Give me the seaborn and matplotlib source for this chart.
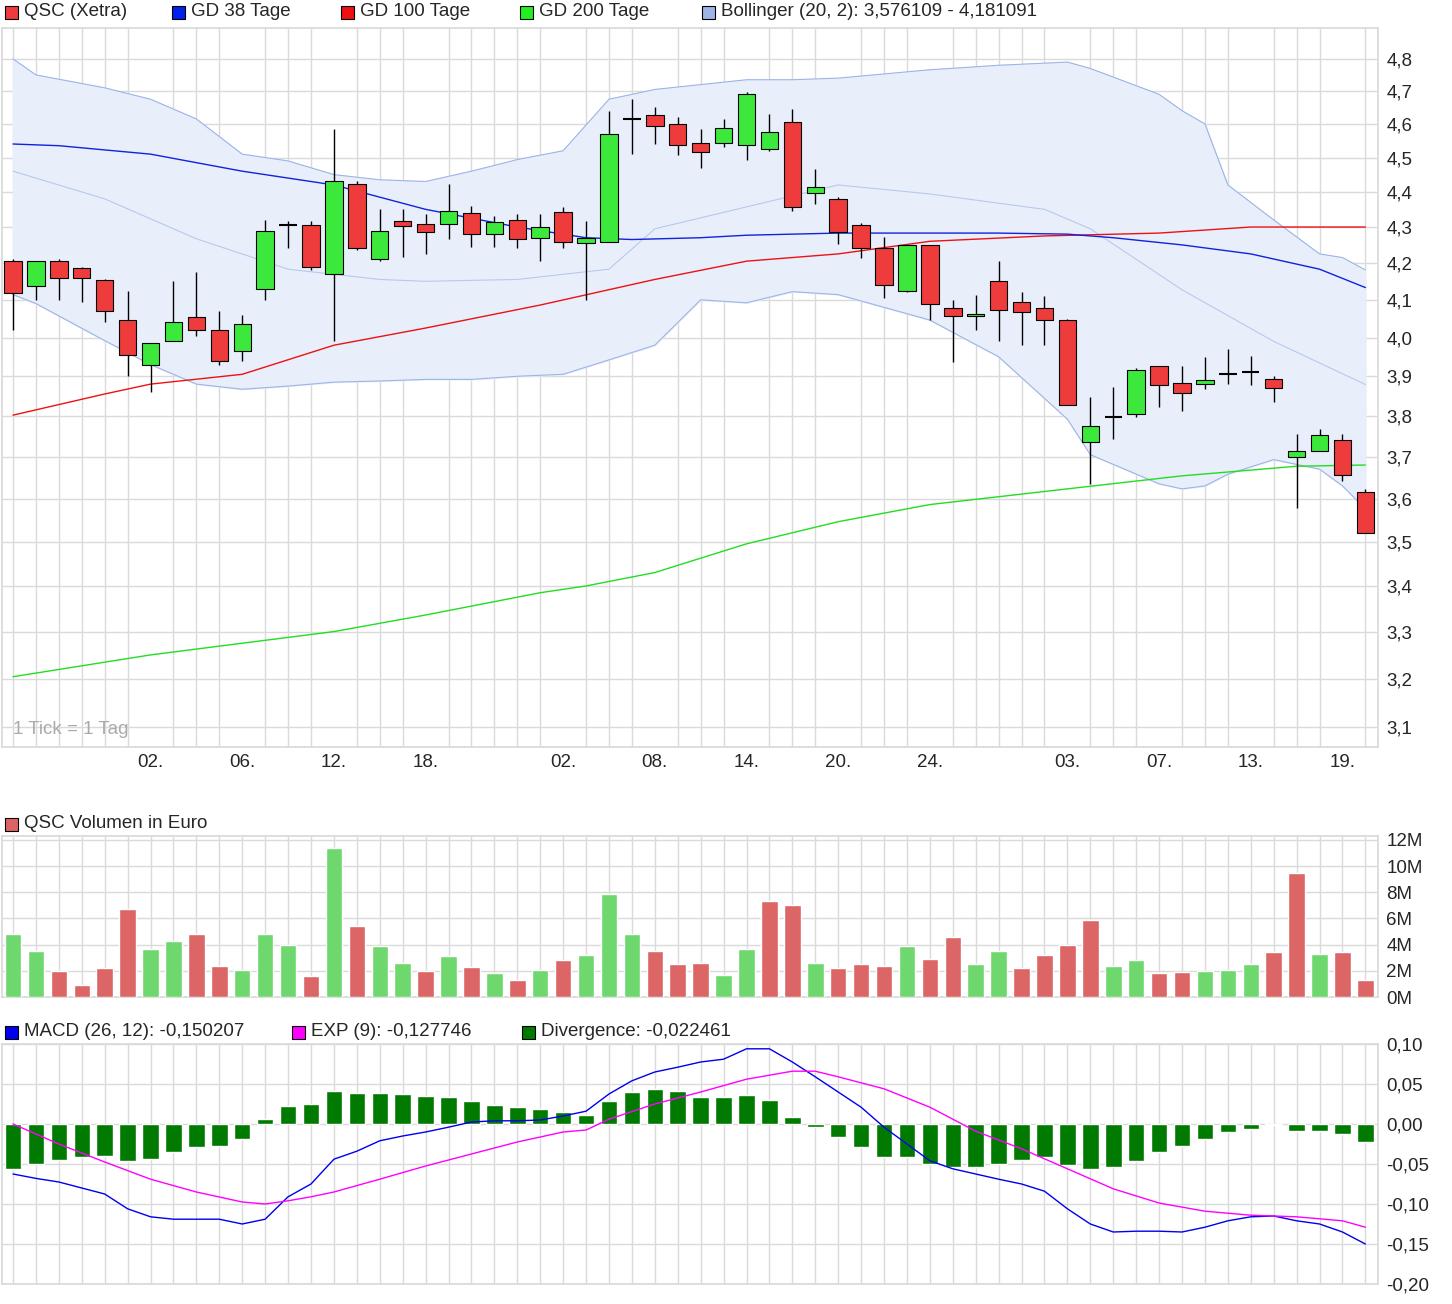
import numpy as np
import pandas as pd
import matplotlib
matplotlib.use("Agg")
from matplotlib import pyplot as plt
from matplotlib.patches import Rectangle
import seaborn as sns

# candle data (index 0..59 = trading days)
opens = [4.205, 4.136, 4.205, 4.186, 4.153, 4.046, 3.93, 3.99, 4.055, 4.02,
         3.965, 4.128, 4.305, 4.306, 4.17, 4.423, 4.21, 4.317, 4.309, 4.309,
         4.34, 4.28, 4.32, 4.27, 4.343, 4.256, 4.258, 4.615, 4.627, 4.6,
         4.542, 4.542, 4.536, 4.524, 4.606, 4.397, 4.38, 4.306, 4.24, 4.125,
         4.25, 4.078, 4.058, 4.15, 4.095, 4.078, 4.046, 3.735, 3.797, 3.805,
         3.925, 3.882, 3.88, 3.907, 3.912, 3.892, 3.70, 3.715, 3.74, 3.616]
closes = [4.117, 4.205, 4.16, 4.158, 4.07, 3.955, 3.985, 4.04, 4.02, 3.94,
          4.035, 4.29, 4.306, 4.19, 4.43, 4.24, 4.29, 4.303, 4.286, 4.346,
          4.28, 4.314, 4.267, 4.30, 4.258, 4.27, 4.57, 4.612, 4.594, 4.536,
          4.515, 4.588, 4.69, 4.576, 4.357, 4.414, 4.286, 4.242, 4.139, 4.25,
          4.089, 4.058, 4.062, 4.073, 4.068, 4.046, 3.827, 3.775, 3.798, 3.917,
          3.877, 3.857, 3.89, 3.905, 3.91, 3.87, 3.715, 3.752, 3.656, 3.521]
highs = [4.21, 4.205, 4.21, 4.19, 4.155, 4.125, 3.985, 4.15, 4.175, 4.07,
         4.06, 4.32, 4.317, 4.317, 4.585, 4.43, 4.35, 4.35, 4.337, 4.423,
         4.36, 4.33, 4.337, 4.337, 4.357, 4.317, 4.64, 4.675, 4.65, 4.62,
         4.585, 4.615, 4.697, 4.63, 4.645, 4.466, 4.386, 4.311, 4.272, 4.25,
         4.25, 4.10, 4.114, 4.205, 4.122, 4.11, 4.05, 3.847, 3.872, 3.922,
         3.925, 3.925, 3.95, 3.97, 3.952, 3.90, 3.755, 3.767, 3.755, 3.623]
lows = [4.02, 4.10, 4.10, 4.095, 4.04, 3.90, 3.86, 3.99, 4.005, 3.93,
        3.94, 4.10, 4.24, 4.18, 3.99, 4.235, 4.205, 4.217, 4.225, 4.267,
        4.245, 4.245, 4.24, 4.205, 4.24, 4.10, 4.258, 4.51, 4.54, 4.506,
        4.47, 4.53, 4.494, 4.518, 4.346, 4.366, 4.253, 4.214, 4.105, 4.122,
        4.046, 3.9375, 4.02, 3.99, 3.98, 3.98, 3.827, 3.635, 3.742, 3.797,
        3.822, 3.812, 3.867, 3.88, 3.877, 3.835, 3.577, 3.715, 3.642, 3.521]

# moving averages / bollinger (index, value)
gd38_idx = [0, 2, 6, 10, 14, 18, 22, 25, 27, 30, 32, 36, 43, 46, 48, 51, 54, 57, 59]
gd38_val = [4.54, 4.535, 4.51, 4.46, 4.42, 4.35, 4.30, 4.27, 4.265, 4.27, 4.277,
            4.283, 4.283, 4.28, 4.27, 4.25, 4.225, 4.183, 4.133]
gd100_idx = [0, 4, 6, 10, 14, 18, 23, 28, 32, 36, 40, 45, 50, 54, 59]
gd100_val = [3.802, 3.855, 3.88, 3.905, 3.98, 4.025, 4.086, 4.155, 4.205, 4.225,
             4.26, 4.275, 4.283, 4.30, 4.30]
gd200_idx = [0, 6, 10, 14, 18, 23, 25, 28, 32, 36, 40, 46, 51, 56, 59]
gd200_val = [3.204, 3.25, 3.275, 3.30, 3.336, 3.385, 3.40, 3.43, 3.495, 3.546,
             3.586, 3.623, 3.654, 3.677, 3.68]
bb_idx = [0, 1, 4, 6, 8, 10, 12, 14, 16, 18, 20, 22, 24, 26, 28, 30, 32, 34, 36,
          40, 43, 46, 47, 50, 51, 52, 53, 55, 57, 58, 59]
bb_upper = [4.80, 4.75, 4.71, 4.675, 4.615, 4.51, 4.49, 4.45, 4.435, 4.43, 4.46,
            4.494, 4.52, 4.675, 4.705, 4.72, 4.735, 4.735, 4.74, 4.766, 4.78,
            4.79, 4.77, 4.69, 4.64, 4.6, 4.42, 4.32, 4.225, 4.215, 4.181]
bb_lower = [4.114, 4.09, 3.992, 3.93, 3.88, 3.867, 3.875, 3.885, 3.888, 3.892,
            3.892, 3.90, 3.905, 3.942, 3.98, 4.10, 4.092, 4.122, 4.114, 4.046,
            3.95, 3.792, 3.705, 3.635, 3.623, 3.63, 3.658, 3.693, 3.67, 3.63, 3.576]
bb_mid_idx = [0, 4, 8, 12, 16, 18, 22, 26, 28, 32, 36, 40, 45, 47, 51, 55, 59]
bb_mid_val = [4.46, 4.38, 4.267, 4.183, 4.155, 4.15, 4.155, 4.183, 4.295, 4.357,
              4.42, 4.394, 4.35, 4.295, 4.127, 3.99, 3.879]

volume_m = [4.8, 3.5, 2.0, 0.9, 2.2, 6.75, 3.7, 4.3, 4.8, 2.4,
            2.1, 4.8, 4.0, 1.6, 11.4, 5.4, 3.9, 2.6, 2.0, 3.15,
            2.3, 1.8, 1.3, 2.1, 2.8, 3.2, 7.9, 4.8, 3.5, 2.5,
            2.6, 1.7, 3.7, 7.35, 7.05, 2.6, 2.25, 2.5, 2.4, 3.9,
            2.9, 4.6, 2.5, 3.5, 2.25, 3.2, 4.0, 5.85, 2.4, 2.8,
            1.8, 1.9, 1.95, 2.1, 2.5, 3.4, 9.5, 3.3, 3.45, 1.3]

divergence = [-0.056, -0.05, -0.045, -0.041, -0.04, -0.046, -0.044, -0.035, -0.029, -0.0275,
              -0.019, 0.006, 0.0225, 0.025, 0.041, 0.039, 0.039, 0.0375, 0.035, 0.034,
              0.029, 0.024, 0.021, 0.019, 0.015, 0.011, 0.029, 0.04, 0.044, 0.041,
              0.034, 0.034, 0.036, 0.03, 0.009, -0.004, -0.016, -0.029, -0.041, -0.041,
              -0.05, -0.054, -0.054, -0.05, -0.045, -0.041, -0.051, -0.056, -0.054, -0.046,
              -0.035, -0.0275, -0.019, -0.01, -0.006, -0.001, -0.009, -0.009, -0.0125, -0.0225]
macd = [-0.0625, -0.068, -0.0725, -0.08, -0.0875, -0.106, -0.116, -0.119, -0.119, -0.119,
        -0.125, -0.119, -0.091, -0.075, -0.044, -0.034, -0.021, -0.015, -0.01, -0.004,
        0.0025, 0.004, 0.004, 0.005, 0.01, 0.016, 0.0375, 0.054, 0.065, 0.071,
        0.0775, 0.081, 0.094, 0.094, 0.0775, 0.059, 0.04, 0.021, -0.004, -0.025,
        -0.046, -0.056, -0.0625, -0.069, -0.075, -0.084, -0.106, -0.125, -0.135, -0.134,
        -0.134, -0.135, -0.129, -0.121, -0.116, -0.115, -0.121, -0.125, -0.135, -0.15]
exp_idx = [0, 2, 4, 6, 8, 10, 11, 12, 13, 14, 16, 18, 20, 22, 24, 25, 26, 28, 30, 32,
           34, 35, 36, 38, 40, 42, 44, 46, 48, 50, 52, 54, 56, 58, 59]
exp_val = [0.0, -0.025, -0.0475, -0.069, -0.085, -0.0975, -0.10, -0.096, -0.091, -0.085,
           -0.069, -0.0525, -0.0375, -0.0225, -0.01, -0.0075, 0.006, 0.025, 0.04, 0.056,
           0.066, 0.066, 0.059, 0.044, 0.021, -0.009, -0.031, -0.056, -0.081, -0.0988,
           -0.109, -0.114, -0.116, -0.121, -0.129]

tick_pos = [6, 10, 14, 18, 24, 28, 32, 36, 40, 46, 50, 54, 58]
tick_lab = ["02.", "06.", "12.", "18.", "02.", "08.", "14.", "20.", "24.", "03.", "07.", "13.", "19."]
price_ticks = [3.1, 3.2, 3.3, 3.4, 3.5, 3.6, 3.7, 3.8, 3.9, 4.0, 4.1, 4.2, 4.3, 4.4, 4.5, 4.6, 4.7, 4.8]

sns.set_theme(style="white", font="Liberation Sans")

RED = "#ee3b3b"
GREEN = "#3de83d"
GRID = "#dadada"
FS = 13.5
W, H = 1452, 1304
fig = plt.figure(figsize=(W / 100, H / 100), dpi=100)


def add_ax(left, top, right, bottom):
    return fig.add_axes([left / W, 1 - bottom / H, (right - left) / W, (bottom - top) / H])


ax = add_ax(2, 28, 1378, 747)
axv = add_ax(2, 836, 1378, 997)
axm = add_ax(2, 1044, 1378, 1284)

xs = np.arange(len(opens))
for a in (ax, axv, axm):
    a.set_xlim(-0.48, 59.55)
    a.set_xticks(xs, minor=True)
    a.grid(True, which="minor", axis="x", color=GRID, lw=1)
    a.grid(True, which="major", axis="y", color=GRID, lw=1)
    a.yaxis.tick_right()
    a.tick_params(axis="y", length=0, pad=6, labelsize=FS)
    a.tick_params(axis="x", length=0, labelsize=FS)
    for s in a.spines.values():
        s.set_color(GRID)
    a.set_axisbelow(True)

# main price panel (log scale)
ax.set_yscale("log")
ax.set_ylim(3.06, 4.898)
ax.set_yticks(price_ticks)
ax.set_yticks([], minor=True)
ax.set_yticklabels([f"{t:.1f}".replace(".", ",") for t in price_ticks])
ax.set_xticks(tick_pos)
ax.set_xticklabels(tick_lab)
ax.tick_params(axis="x", pad=5)

ax.fill_between(bb_idx, bb_lower, bb_upper, color="#e8effb", zorder=1)
ax.plot(bb_idx, bb_upper, color="#9db4e6", lw=0.8, zorder=2)
ax.plot(bb_idx, bb_lower, color="#9db4e6", lw=0.8, zorder=2)
ax.plot(bb_mid_idx, bb_mid_val, color="#b8c9ee", lw=0.8, zorder=2)
sns.lineplot(x=gd200_idx, y=gd200_val, ax=ax, color="#22dd22", lw=1, zorder=3)
sns.lineplot(x=gd100_idx, y=gd100_val, ax=ax, color="#ee1111", lw=1, zorder=3)
sns.lineplot(x=gd38_idx, y=gd38_val, ax=ax, color="#1122dd", lw=1, zorder=3)

for i in xs:
    o, c = opens[i], closes[i]
    ax.vlines(i, lows[i], highs[i], color="black", lw=1, zorder=4)
    col = GREEN if c >= o else RED
    lo, hi = min(o, c), max(o, c)
    if hi - lo < 0.004:
        ax.hlines((o + c) / 2, i - 0.38, i + 0.38, color="black", lw=1.5, zorder=5)
    else:
        ax.add_patch(Rectangle((i - 0.38, lo), 0.76, hi - lo, facecolor=col,
                               edgecolor="black", lw=0.8, zorder=5))
ax.text(0.008, 0.018, "1 Tick = 1 Tag", transform=ax.transAxes, color="#aaaaaa", fontsize=FS)

# volume panel
up = [True] + [closes[i] >= closes[i - 1] for i in range(1, len(closes))]
vol_df = pd.DataFrame({"x": xs, "v": volume_m, "up": up})
axv.bar(vol_df["x"], vol_df["v"], width=0.72,
        color=["#6ed86e" if u else "#dc6666" for u in vol_df["up"]], zorder=3)
axv.set_ylim(0, 12.3)
axv.set_yticks([0, 2, 4, 6, 8, 10, 12])
axv.set_yticklabels(["0M", "2M", "4M", "6M", "8M", "10M", "12M"])
axv.set_xticks([])

# MACD panel
axm.bar(xs, divergence, width=0.72, color="#007a00", zorder=3)
sns.lineplot(x=xs, y=macd, ax=axm, color="#0000ee", lw=1, zorder=4)
sns.lineplot(x=exp_idx, y=exp_val, ax=axm, color="#ff00ff", lw=1, zorder=4)
axm.set_ylim(-0.2, 0.1)
mt = [-0.2, -0.15, -0.1, -0.05, 0.0, 0.05, 0.1]
axm.set_yticks(mt)
axm.set_yticklabels([f"{t:.2f}".replace(".", ",") for t in mt])
axm.set_xticks([])


def legend_row(y, items):
    for x, col, label in items:
        fig.patches.append(Rectangle((x / W, 1 - (y + 7) / H), 13 / W, 13 / H,
                                     transform=fig.transFigure, facecolor=col,
                                     edgecolor="black", lw=0.8))
        fig.text((x + 19) / W, 1 - y / H, label, fontsize=FS, va="center")


legend_row(12, [(5, RED, "QSC (Xetra)"), (172, "#0022ee", "GD 38 Tage"),
                (341, "#ee1111", "GD 100 Tage"), (520, "#22ee22", "GD 200 Tage"),
                (702, "#9db4e6", "Bollinger (20, 2): 3,576109 - 4,181091")])
legend_row(824, [(5, "#dc6464", "QSC Volumen in Euro")])
legend_row(1032, [(5, "#0000ee", "MACD (26, 12): -0,150207"),
                  (292, "#ff00ff", "EXP (9): -0,127746"),
                  (522, "#007a00", "Divergence: -0,022461")])

fig.savefig("out.png", dpi=100, facecolor="white")
